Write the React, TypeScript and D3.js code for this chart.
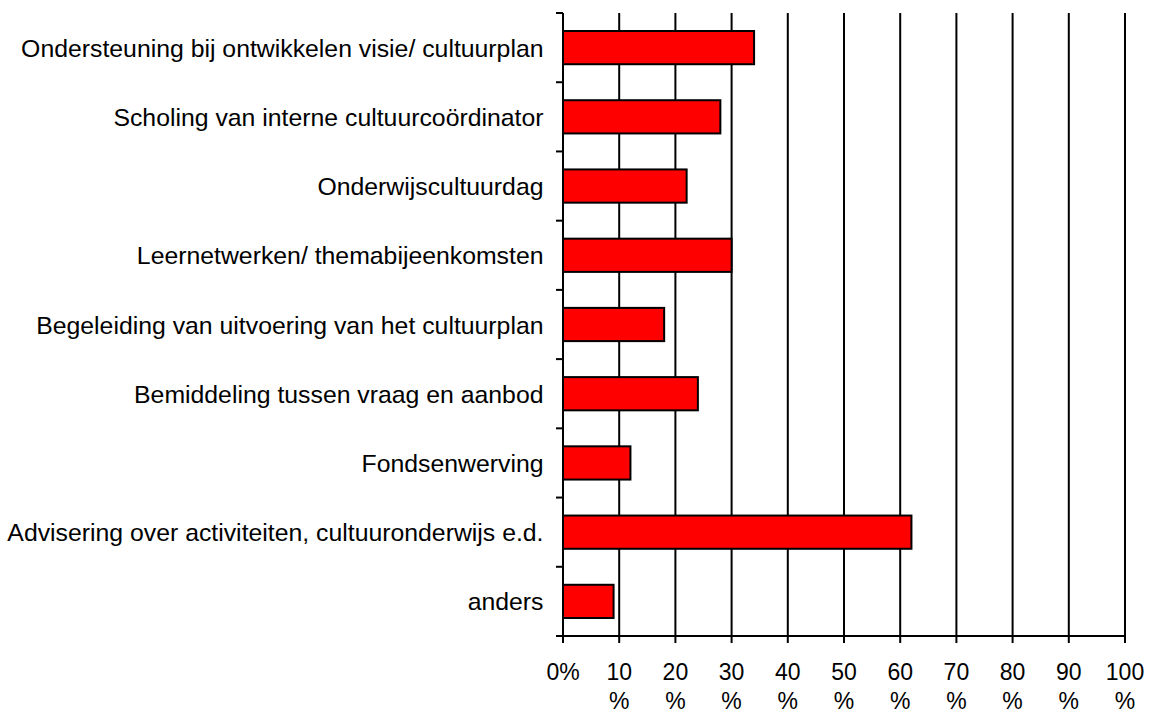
import React from "react";
import * as d3 from "d3";

const categories = [
  "Ondersteuning bij ontwikkelen visie/ cultuurplan",
  "Scholing van interne cultuurcoördinator",
  "Onderwijscultuurdag",
  "Leernetwerken/ themabijeenkomsten",
  "Begeleiding van uitvoering van het cultuurplan",
  "Bemiddeling tussen vraag en aanbod",
  "Fondsenwerving",
  "Advisering over activiteiten, cultuuronderwijs e.d.",
  "anders",
];
const values = [34, 28, 22, 30, 18, 24, 12, 62, 9];
const tickValues = [0, 10, 20, 30, 40, 50, 60, 70, 80, 90, 100];
const tickLine1 = ["0%", "10", "20", "30", "40", "50", "60", "70", "80", "90", "100"];
const tickLine2 = ["", "%", "%", "%", "%", "%", "%", "%", "%", "%", "%"];

const W = 1151;
const H = 713;
const left = 563;
const right = 1125;
const top = 13;
const bottom = 636;

export default function App() {
  const x = d3.scaleLinear().domain([0, 100]).range([left, right]);
  const y = d3.scaleBand<string>().domain(categories).range([top, bottom]).padding(0);
  const bw = y.bandwidth();
  const barH = bw * 0.48;
  const font = "Liberation Sans, Arial, sans-serif";
  const boundaries = d3.range(categories.length + 1).map((i) => top + i * bw);

  return (
    <svg
      width={W}
      height={H}
      style={{ position: "absolute", left: 0, top: 0, display: "block", background: "#fff" }}
    >
      {tickValues.slice(1).map((t) => (
        <line key={"g" + t} x1={x(t)} x2={x(t)} y1={top} y2={bottom} stroke="#000" strokeWidth={2} />
      ))}
      {categories.map((c, i) => (
        <rect
          key={c}
          x={x(0)}
          y={(y(c) as number) + (bw - barH) / 2}
          width={x(values[i]) - x(0)}
          height={barH}
          fill="#FF0000"
          stroke="#000"
          strokeWidth={2}
        />
      ))}
      <line x1={left} x2={left} y1={top} y2={bottom} stroke="#000" strokeWidth={2} />
      {boundaries.map((b, i) => (
        <line key={"yt" + i} x1={left - 7} x2={left} y1={b} y2={b} stroke="#000" strokeWidth={2} />
      ))}
      <line x1={left - 7} x2={right + 1} y1={bottom} y2={bottom} stroke="#000" strokeWidth={2} />
      {tickValues.map((t) => (
        <line key={"xt" + t} x1={x(t)} x2={x(t)} y1={bottom} y2={bottom + 7} stroke="#000" strokeWidth={2} />
      ))}
      {categories.map((c) => (
        <text
          key={"l" + c}
          x={left - 19.5}
          y={(y(c) as number) + bw / 2 + 9}
          textAnchor="end"
          fontFamily={font}
          fontSize={24.8}
          fill="#000"
        >
          {c}
        </text>
      ))}
      {tickValues.map((t, i) => (
        <g key={"tl" + t}>
          <text x={x(t)} y={680} textAnchor="middle" fontFamily={font} fontSize={23} fill="#000">
            {tickLine1[i]}
          </text>
          {tickLine2[i] && (
            <text x={x(t)} y={709} textAnchor="middle" fontFamily={font} fontSize={23} fill="#000">
              {tickLine2[i]}
            </text>
          )}
        </g>
      ))}
    </svg>
  );
}
